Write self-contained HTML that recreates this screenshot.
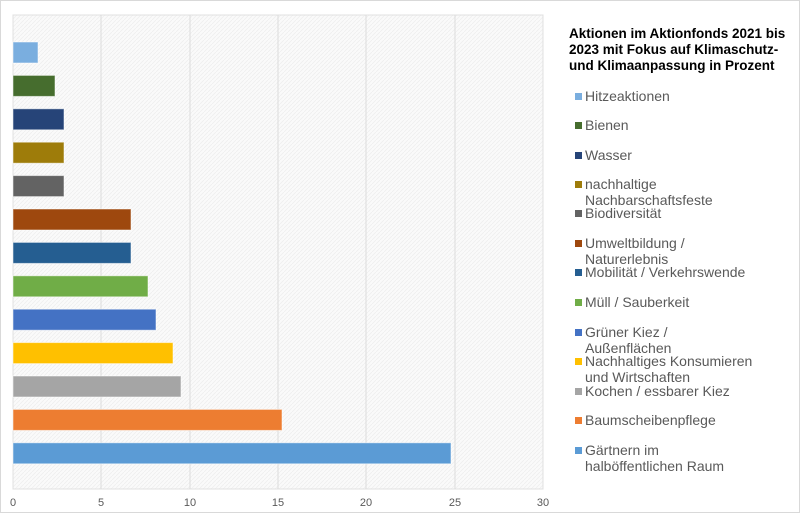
<!DOCTYPE html>
<html><head><meta charset="utf-8"><style>
body{margin:0;width:800px;height:513px;background:#fff;overflow:hidden;font-family:"Liberation Sans",sans-serif}
.t{position:absolute;left:569px;top:26px;font-size:13.5px;font-weight:bold;line-height:16px;color:#000;width:230px}
.l{position:absolute;left:575px;font-size:14px;line-height:16px;color:#595959;white-space:nowrap}
.l i{position:absolute;left:0;top:5px;width:7px;height:7px}
.l span{margin-left:10px;display:block}
</style></head><body>
<div style="position:absolute;left:0;top:0;width:798px;height:511px;border:1px solid #d9d9d9"></div>
<svg width="800" height="513" style="position:absolute;left:0;top:0">
<defs><pattern id="p" width="4" height="4" patternUnits="userSpaceOnUse"><rect width="4" height="4" fill="#fafafa"/><path d="M0 4L4 0" stroke="#ececec" stroke-width="0.7"/></pattern></defs>
<rect x="13" y="15" width="530" height="474" fill="url(#p)" stroke="#e0e0e0"/>
<g stroke="#dcdcdc"><line x1="101" y1="15" x2="101" y2="489"/><line x1="190" y1="15" x2="190" y2="489"/><line x1="278" y1="15" x2="278" y2="489"/><line x1="366" y1="15" x2="366" y2="489"/><line x1="455" y1="15" x2="455" y2="489"/></g>
<g stroke="#fff" stroke-opacity=".5">
<rect x="13" y="42" width="25" height="21" fill="#7aaedf"/>
<rect x="13" y="75.4" width="42" height="21" fill="#466d2e"/>
<rect x="13" y="108.8" width="51" height="21" fill="#264478"/>
<rect x="13" y="142.2" width="51" height="21" fill="#9e7c0a"/>
<rect x="13" y="175.6" width="51" height="21" fill="#636363"/>
<rect x="13" y="209" width="118" height="21" fill="#9e480e"/>
<rect x="13" y="242.4" width="118" height="21" fill="#255e91"/>
<rect x="13" y="275.8" width="135" height="21" fill="#70ad47"/>
<rect x="13" y="309.2" width="143" height="21" fill="#4472c4"/>
<rect x="13" y="342.6" width="160" height="21" fill="#ffc000"/>
<rect x="13" y="376" width="168" height="21" fill="#a5a5a5"/>
<rect x="13" y="409.4" width="269" height="21" fill="#ed7d31"/>
<rect x="13" y="442.8" width="438" height="21" fill="#5b9bd5"/>
</g>
<g font-size="11" fill="#595959" text-anchor="middle" font-family="Liberation Sans"><text x="13" y="506">0</text><text x="101" y="506">5</text><text x="190" y="506">10</text><text x="278" y="506">15</text><text x="366" y="506">20</text><text x="455" y="506">25</text><text x="543" y="506">30</text></g>
</svg>
<div class="t">Aktionen im Aktionfonds 2021 bis 2023 mit Fokus auf Klimaschutz-und Klimaanpassung in Prozent</div>
<div class="l" style="top:88px"><i style="background:#7aaedf"></i><span>Hitzeaktionen</span></div>
<div class="l" style="top:117px"><i style="background:#466d2e"></i><span>Bienen</span></div>
<div class="l" style="top:147px"><i style="background:#264478"></i><span>Wasser</span></div>
<div class="l" style="top:176px"><i style="background:#9e7c0a"></i><span>nachhaltige<br>Nachbarschaftsfeste</span></div>
<div class="l" style="top:205px"><i style="background:#636363"></i><span>Biodiversität</span></div>
<div class="l" style="top:235px"><i style="background:#9e480e"></i><span>Umweltbildung /<br>Naturerlebnis</span></div>
<div class="l" style="top:264px"><i style="background:#255e91"></i><span>Mobilität / Verkehrswende</span></div>
<div class="l" style="top:294px"><i style="background:#70ad47"></i><span>Müll / Sauberkeit</span></div>
<div class="l" style="top:324px"><i style="background:#4472c4"></i><span>Grüner Kiez /<br>Außenflächen</span></div>
<div class="l" style="top:353px"><i style="background:#ffc000"></i><span>Nachhaltiges Konsumieren<br>und Wirtschaften</span></div>
<div class="l" style="top:383px"><i style="background:#a5a5a5"></i><span>Kochen / essbarer Kiez</span></div>
<div class="l" style="top:412px"><i style="background:#ed7d31"></i><span>Baumscheibenpflege</span></div>
<div class="l" style="top:442px"><i style="background:#5b9bd5"></i><span>Gärtnern im<br>halböffentlichen Raum</span></div>
</body></html>
